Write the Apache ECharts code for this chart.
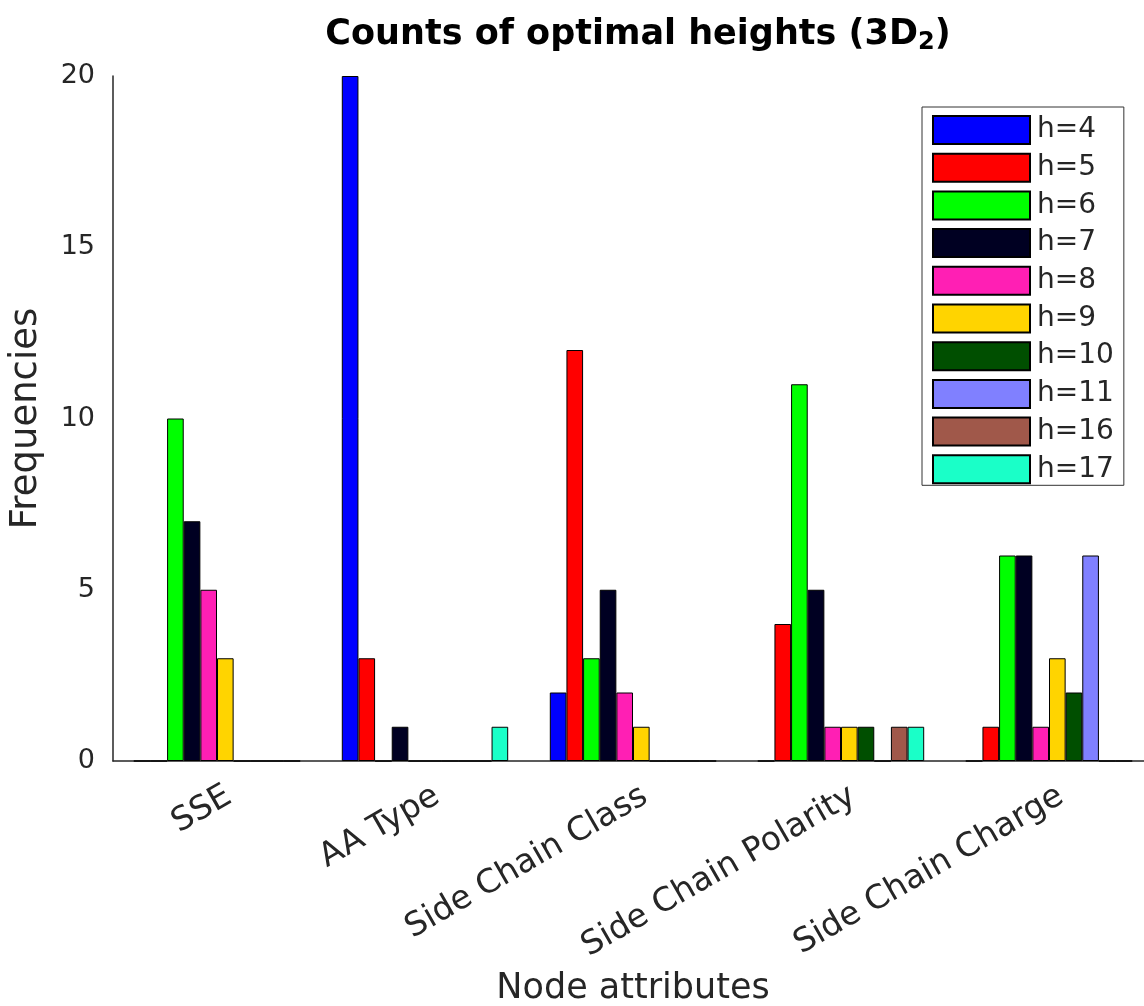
<!DOCTYPE html>
<html>
<head>
<meta charset="utf-8">
<script src="https://cdn.jsdelivr.net/npm/echarts@6/dist/echarts.min.js"></script>
<style>
  html, body { margin: 0; padding: 0; background: #fff; }
  #chart { width: 1144px; height: 1006px; }
</style>
</head>
<body>
<div id="chart"></div>
<script>
// Node attributes on the x axis
const categories = ['SSE', 'AA Type', 'Side Chain Class', 'Side Chain Polarity', 'Side Chain Charge'];

// Optimal height labels (one bar series per height)
const heightNames = ['h=4', 'h=5', 'h=6', 'h=7', 'h=8', 'h=9', 'h=10', 'h=11', 'h=16', 'h=17'];

// Frequencies per height, ordered like categories
const h4  = [0, 20, 2, 0, 0];
const h5  = [0, 3, 12, 4, 1];
const h6  = [10, 0, 3, 11, 6];
const h7  = [7, 1, 5, 5, 6];
const h8  = [5, 0, 2, 1, 1];
const h9  = [3, 0, 1, 1, 3];
const h10 = [0, 0, 0, 1, 2];
const h11 = [0, 0, 0, 0, 6];
const h16 = [0, 0, 0, 1, 0];
const h17 = [0, 1, 0, 1, 0];

const yTicks = [0, 5, 10, 15, 20];

const seriesValues = [h4, h5, h6, h7, h8, h9, h10, h11, h16, h17];
const barColors = ['#0000ff', '#ff0000', '#00ff00', '#000022', '#ff1fb4',
                   '#ffd400', '#004f00', '#8080ff', '#a0584a', '#1affc8'];

const FONT = 'DejaVu Sans';
const TXT = '#262626';

const chart = echarts.init(document.getElementById('chart'), null, { renderer: 'canvas' });

const series = heightNames.map((name, i) => ({
  name: name,
  type: 'bar',
  data: seriesValues[i],
  barGap: '0%',
  barCategoryGap: '20%',
  itemStyle: { color: barColors[i], borderColor: '#000', borderWidth: 1 },
  emphasis: { disabled: true }
}));

chart.setOption({
  animation: false,
  backgroundColor: '#fff',
  textStyle: { fontFamily: FONT },
  title: {
    text: 'Counts of optimal heights (3D{sub|2})',
    left: 633,
    top: 9,
    textAlign: 'center',
    textStyle: {
      fontFamily: FONT, fontSize: 35, fontWeight: 'bold', color: '#000',
      rich: {
        sub: { fontFamily: FONT, fontSize: 24, fontWeight: 'bold', color: '#000',
               padding: [17, 0, 0, 0] }
      }
    }
  },
  legend: {
    orient: 'vertical',
    left: 922,
    top: 107,
    data: heightNames,
    icon: 'rect',
    itemWidth: 97,
    itemHeight: 28,
    itemGap: 7.7,
    padding: [8, 10, 1, 10],
    backgroundColor: '#fff',
    borderColor: '#333',
    borderWidth: 1,
    textStyle: { fontFamily: FONT, fontSize: 28, color: TXT, padding: [0, 0, 0, 2] }
  },
  grid: { left: 113, right: -9, top: 76, bottom: 245, containLabel: false, outerBoundsMode: 'none' },
  xAxis: {
    type: 'category',
    data: categories,
    name: 'Node attributes',
    nameLocation: 'middle',
    nameGap: 210,
    nameTextStyle: { fontFamily: FONT, fontSize: 35, color: TXT },
    axisLine: { show: true, lineStyle: { color: '#262626', width: 1.5 } },
    axisTick: { show: false },
    axisLabel: {
      rotate: 30, margin: 40, fontFamily: FONT, fontSize: 33, color: TXT,
      interval: 0, padding: [0, -14, 0, 0]
    }
  },
  yAxis: {
    type: 'value',
    min: yTicks[0],
    max: yTicks[yTicks.length - 1],
    interval: yTicks[1] - yTicks[0],
    name: 'Frequencies',
    nameLocation: 'middle',
    nameRotate: 90,
    nameGap: 68,
    nameTextStyle: { fontFamily: FONT, fontSize: 37, color: TXT },
    axisLine: { show: true, lineStyle: { color: '#262626', width: 1.5 } },
    axisTick: { show: false },
    splitLine: { show: false },
    axisLabel: { margin: 18, fontFamily: FONT, fontSize: 27, color: TXT }
  },
  series: series
});
</script>
</body>
</html>
